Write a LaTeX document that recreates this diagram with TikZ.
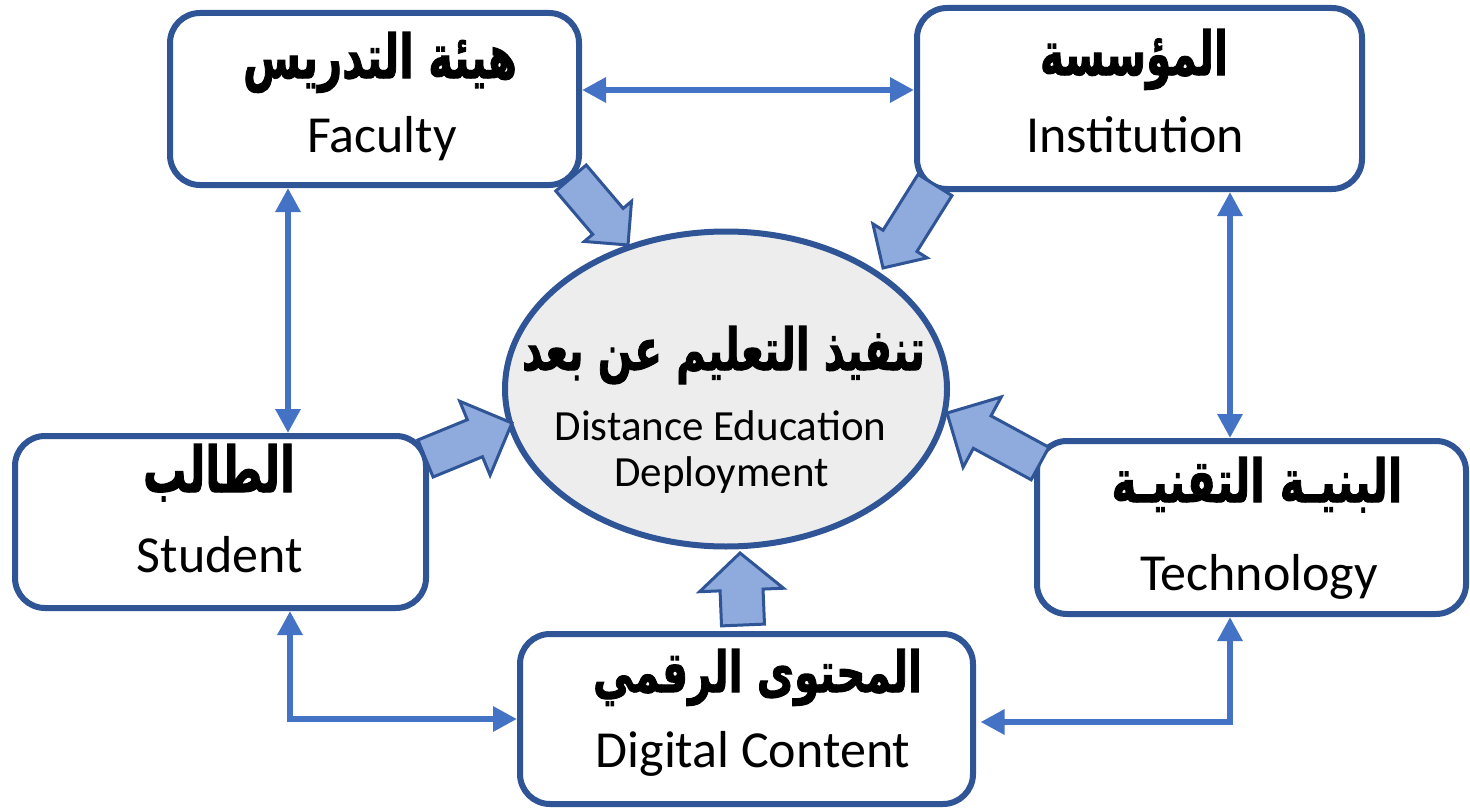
\documentclass[tikz,border=0pt]{standalone}
\usepackage{fontspec}
\setmainfont{Carlito}
\newfontfamily\arabicfont[Script=Arabic,BoldFeatures={FakeBold=1.8}]{DejaVu Sans}
\TeXXeTstate=1
\usetikzlibrary{arrows.meta,calc,shapes.geometric}
\definecolor{boxblue}{HTML}{2F5597}
\definecolor{linkblue}{HTML}{4472C4}
\definecolor{arrowfill}{HTML}{8FAADC}
\definecolor{ellfill}{HTML}{EDEDED}
\newcommand\arw[3]{\resizebox{#1pt}{#2pt}{\arabicfont\bfseries\fontsize{40}{48}\selectfont #3}}
\newcommand\blockarrow[5]{%
  \path let \p1=(#1), \p2=(#2) in \pgfextra{%
    \pgfmathsetmacro\tmpang{atan2(\y2-\y1,\x2-\x1)}%
    \pgfmathsetmacro\tmplen{veclen(\x2-\x1,\y2-\y1)}%
    \xdef\barang{\tmpang}\xdef\barlen{\tmplen}};
  \begin{scope}[shift={(#1)},rotate=\barang]
    \draw[bigarrow] (0pt,-#3pt) -- ({\barlen pt-#5pt},-#3pt) -- ({\barlen pt-#5pt},-#4pt)
      -- (\barlen pt,0pt) -- ({\barlen pt-#5pt},#4pt) -- ({\barlen pt-#5pt},#3pt) -- (0pt,#3pt) -- cycle;
  \end{scope}}
\begin{document}
\begin{tikzpicture}[x=1pt,y=-1pt,
  box/.style={draw=boxblue, line width=6pt, rounded corners=30pt, fill=white, inner sep=0pt},
  link/.style={draw=linkblue, line width=6pt, {Triangle[length=24pt,width=24pt]}-{Triangle[length=24pt,width=24pt]}},
  bigarrow/.style={fill=arrowfill, draw=boxblue, line width=3pt, line join=miter},
  en/.style={font=\fontsize{52}{60}\selectfont, anchor=base, inner sep=0pt},
  ens/.style={font=\fontsize{43}{50}\selectfont, anchor=base, inner sep=0pt},
  ar/.style={anchor=base, inner sep=0pt}]
\useasboundingbox (0,0) rectangle (1470,808);
% centre
\node[ellipse, draw=boxblue, line width=6pt, fill=ellfill, minimum width=442pt, minimum height=315pt, inner sep=0pt] (ell) at (726,389) {};
% boxes
\node[box, minimum width=409pt, minimum height=172pt] (fac) at (374.5,99) {};
\node[box, minimum width=445pt, minimum height=181pt] (inst) at (1139.5,98.5) {};
\node[box, minimum width=411pt, minimum height=172pt] (stu) at (220.5,522) {};
\node[box, minimum width=429pt, minimum height=173pt] (tech) at (1251.5,527.5) {};
\node[box, minimum width=453pt, minimum height=170pt] (dig) at (746.5,719) {};
% thin links
\draw[link] ([yshift=9pt]fac.east) -- ([yshift=9pt]fac.east -| inst.west);
\draw[link] ([xshift=67.5pt]stu.north) -- ([xshift=67.5pt]stu.north |- fac.south);
\draw[link] ([xshift=-21.5pt]tech.north) -- ([xshift=-21.5pt]tech.north |- inst.south);
\draw[link] ([xshift=69.5pt]stu.south) |- (dig.west);
\draw[link] ([xshift=-21.5pt]tech.south) |- ([xshift=4.5pt,yshift=-3pt]dig.east);
% block arrows
\coordinate (facT) at (571,178);  \coordinate (facH) at (628,245);
\coordinate (instT) at (935,185); \coordinate (instH) at (883,268);
\coordinate (stuT) at (425.5,458.5); \coordinate (stuH) at (512,423);
\coordinate (techT) at (1040,463.5); \coordinate (techH) at (947,413);
\coordinate (digT) at (743,625); \coordinate (digH) at (740,553);
\blockarrow{facT}{facH}{20}{31}{31}
\blockarrow{instT}{instH}{20}{32}{32}
\blockarrow{stuT}{stuH}{20}{40}{40}
\blockarrow{techT}{techH}{18.5}{40}{40}
\blockarrow{digT}{digH}{21.5}{42}{37}
% texts
\node[ar] (facar) at (380,78) {\arw{274}{46}{\beginR هيئة التدريس\endR}};
\node[en] (facen) at (382,152) {Faculty};
\node[ar] (instar) at (1134,75) {\arw{188}{46}{\beginR المؤسسة\endR}};
\node[en] (insten) at (1135,152) {Institution};
\node[ar] (stuar) at (219,492) {\arw{152}{48}{\beginR الطالب\endR}};
\node[en] (stuen) at (220,572) {Student};
\node[ar] (techar) at (1257,502) {\arw{291}{45}{\beginR البنيـة التقنيـة\endR}};
\node[en] (techen) at (1259,590) {Technology};
\node[ar] (digar) at (757.5,692) {\arw{329}{43}{\beginR المحتوى الرقمي\endR}};
\node[en] (digen) at (753,767) {Digital Content};
\node[ar] (ellar) at (723.5,370) {\arw{403}{44}{\beginR تنفيذ التعليم عن بعد\endR}};
\node[ens] (ellen1) at (720.5,440) {Distance Education};
\node[ens] (ellen2) at (721.5,486) {Deployment};
\end{tikzpicture}
\end{document}
